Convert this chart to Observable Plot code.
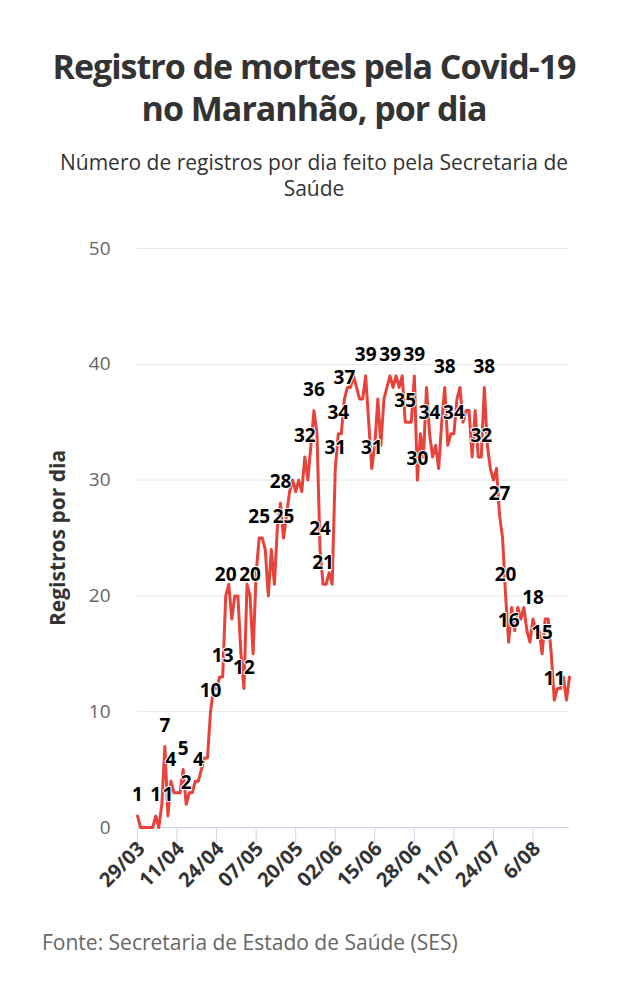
<!DOCTYPE html>
<html>
<head>
<meta charset="utf-8">
<script src="https://cdn.jsdelivr.net/npm/d3@7"></script>
<script src="https://cdn.jsdelivr.net/npm/@observablehq/plot@0.6"></script>
<style>
  html, body { margin: 0; padding: 0; background: #fff; }
  body { width: 628px; font-family: "Open Sans", sans-serif; }
  #header { height: 220px; box-sizing: border-box; padding-top: 45px; text-align: center; }
  #title { font-size: 34px; line-height: 42px; font-weight: 700; color: #333; letter-spacing: -1px; margin: 0; }
  #subtitle { font-size: 21px; line-height: 26px; color: #333; margin-top: 20px; }
  #chart svg { display: block; }
  #caption { margin-top: 20px; padding-left: 42px; font-size: 21px; line-height: 24px; color: #666; }
</style>
</head>
<body>
<div id="header">
  <div id="title">Registro de mortes pela Covid-19<br>no Maranhão, por dia</div>
  <div id="subtitle">Número de registros por dia feito pela Secretaria de<br>Saúde</div>
</div>
<div id="chart"></div>
<div id="caption">Fonte: Secretaria de Estado de Saúde (SES)</div>
<script>
// Daily death registrations, starting 29/03/2020
const startDate = "2020-03-29";
const deaths = [
  1, 0, 0, 0, 0, 0, 1, 0, 2, 7,
  1, 4, 3, 3, 3, 5, 2, 3, 3, 4,
  4, 5, 6, 6, 10, 12, 12, 13, 13, 20,
  21, 18, 20, 20, 15, 12, 21, 20, 15, 22,
  25, 25, 24, 20, 24, 21, 26, 28, 25, 27,
  29, 30, 29, 30, 29, 32, 30, 33, 36, 34,
  24, 21, 21, 22, 21, 31, 34, 34, 37, 38,
  38, 39, 38, 37, 37, 39, 35, 31, 33, 37,
  33, 37, 38, 39, 38, 39, 38, 39, 35, 35,
  35, 39, 30, 34, 32, 38, 34, 32, 33, 31,
  35, 38, 33, 34, 34, 37, 38, 35, 36, 36,
  32, 36, 32, 32, 38, 33, 31, 30, 31, 27,
  25, 20, 16, 19, 17, 19, 18, 19, 17, 16,
  18, 17, 17, 15, 18, 18, 15, 11, 12, 12,
  13, 11, 13
];
// days (index into deaths) that carry a value label
const labelDays = [0, 6, 10, 9, 11, 15, 16, 20, 24, 28, 29, 35, 37, 40, 48, 47, 55, 58, 60, 61,
                   65, 66, 68, 75, 77, 83, 88, 91, 92, 96, 101, 104, 114, 113, 119, 121, 122, 130, 133, 137];
const tickLabels = ["29/03", "11/04", "24/04", "07/05", "20/05", "02/06", "15/06", "28/06", "11/07", "24/07", "6/08"];
const tickStepDays = 13;
const yTicks = [0, 10, 20, 30, 40, 50];
const yTitle = "Registros por dia";

const start = new Date(startDate + "T00:00:00Z");
const day = i => d3.utcDay.offset(start, i);
const data = deaths.map((v, i) => ({date: day(i), value: v}));
const labels = labelDays.map(i => ({date: day(i), value: deaths[i]}));
const tickDates = tickLabels.map((_, k) => day(k * tickStepDays));

const chart = Plot.plot({
  width: 628,
  height: 690,
  marginLeft: 137,
  marginRight: 59,
  marginTop: 28,
  marginBottom: 83,
  style: {fontFamily: "Open Sans", background: "#fff"},
  x: {type: "utc", domain: [day(0), day(deaths.length - 1)]},
  y: {domain: [0, 50]},
  marks: [
    Plot.gridY(yTicks, {stroke: "#e6e6e6", strokeOpacity: 1}),
    Plot.axisY(yTicks, {tickSize: 0, tickPadding: 27, fontSize: 19, fill: "#666", label: null}),
    Plot.text([yTitle], {frameAnchor: "left", text: d => d, rotate: -90, dx: -79, textAnchor: "middle",
                         fontSize: 21, fontWeight: "bold", fill: "#333"}),
    Plot.ruleY([0], {stroke: "#ccd6eb"}),
    Plot.axisX(tickDates, {tickSize: 16, text: null, stroke: "#ccd6eb", label: null}),
    Plot.axisX(tickDates, {tickFormat: (d, i) => tickLabels[i], tickRotate: -45, tickSize: 0, tickPadding: 18, dx: 4,
                           fill: "#333", fontSize: 20, fontWeight: "bold", label: null}),
    Plot.line(data, {x: "date", y: "value", stroke: "#e8433a", strokeWidth: 3}),
    Plot.text(labels, {x: "date", y: "value", text: d => String(d.value), dy: -21, fontSize: 19, fontWeight: "bold",
                       fill: "#000", stroke: "white", strokeWidth: 2})
  ]
});
document.getElementById("chart").appendChild(chart);
</script>
</body>
</html>
